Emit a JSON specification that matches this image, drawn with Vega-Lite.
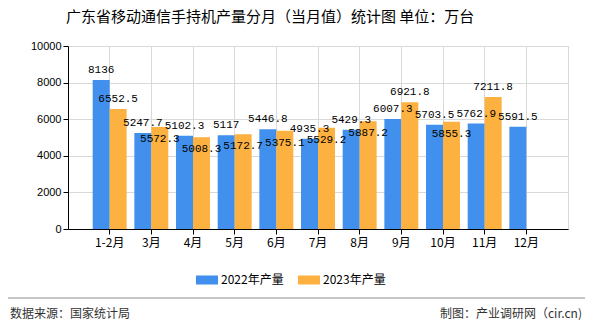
{
  "$schema": "https://vega.github.io/schema/vega-lite/v6.json",
  "width": 500,
  "height": 183,
  "autosize": "none",
  "padding": {"left": 68, "top": 46, "right": 22, "bottom": 101},
  "background": "white",
  "title": {
    "text": "广东省移动通信手持机产量分月（当月值）统计图 单位：万台",
    "anchor": "start",
    "frame": "group",
    "dx": -2,
    "offset": 15,
    "fontSize": 15,
    "fontWeight": "normal",
    "font": "Noto Sans CJK SC",
    "color": "#000000"
  },
  "datasets": {
    "main": [
      {"month": "1-2月", "series": "2022年产量", "value": 8136},
      {"month": "3月", "series": "2022年产量", "value": 5247.7},
      {"month": "4月", "series": "2022年产量", "value": 5102.3},
      {"month": "5月", "series": "2022年产量", "value": 5117},
      {"month": "6月", "series": "2022年产量", "value": 5446.8},
      {"month": "7月", "series": "2022年产量", "value": 4935.3},
      {"month": "8月", "series": "2022年产量", "value": 5429.3},
      {"month": "9月", "series": "2022年产量", "value": 6007.3},
      {"month": "10月", "series": "2022年产量", "value": 5703.5},
      {"month": "11月", "series": "2022年产量", "value": 5762.9},
      {"month": "12月", "series": "2022年产量", "value": 5591.5},
      {"month": "1-2月", "series": "2023年产量", "value": 6552.5},
      {"month": "3月", "series": "2023年产量", "value": 5572.3},
      {"month": "4月", "series": "2023年产量", "value": 5008.3},
      {"month": "5月", "series": "2023年产量", "value": 5172.7},
      {"month": "6月", "series": "2023年产量", "value": 5375.1},
      {"month": "7月", "series": "2023年产量", "value": 5529.2},
      {"month": "8月", "series": "2023年产量", "value": 5887.2},
      {"month": "9月", "series": "2023年产量", "value": 6921.8},
      {"month": "10月", "series": "2023年产量", "value": 5855.3},
      {"month": "11月", "series": "2023年产量", "value": 7211.8}
    ]
  },
  "layer": [
    {
      "data": {"name": "main"},
      "encoding": {
        "x": {
          "field": "month",
          "type": "nominal",
          "sort": null,
          "scale": {"paddingInner": 0.185, "paddingOuter": 0.5925},
          "axis": {
            "title": null,
            "labelAngle": 0,
            "labelFont": "Noto Sans CJK SC",
            "labelFontSize": 12,
            "labelColor": "#000000",
            "labelPadding": 3,
            "domainColor": "#000000",
            "tickColor": "#000000",
            "tickSize": 5,
            "grid": true,
            "gridColor": "#d9d9d9"
          }
        },
        "xOffset": {"field": "series", "type": "nominal"},
        "y": {
          "field": "value",
          "type": "quantitative",
          "scale": {"domain": [0, 10000]},
          "axis": {
            "title": null,
            "values": [0, 2000, 4000, 6000, 8000, 10000],
            "format": "d",
            "labelFont": "Liberation Sans",
            "labelFontSize": 11,
            "labelColor": "#000000",
            "domainColor": "#000000",
            "tickColor": "#000000",
            "tickSize": 5,
            "gridColor": "#d9d9d9"
          }
        }
      },
      "layer": [
        {
          "mark": {"type": "bar"},
          "encoding": {
            "color": {
              "field": "series",
              "type": "nominal",
              "scale": {"range": ["#4190EE", "#FDB140"]},
              "legend": {
                "title": null,
                "orient": "none",
                "direction": "horizontal",
                "legendX": 129,
                "legendY": 224,
                "symbolType": "M-1.1,-0.45H1.1V0.45H-1.1Z",
                "symbolSize": 400,
                "symbolStrokeWidth": 0,
                "labelFont": "Noto Sans CJK SC",
                "labelFontSize": 12,
                "labelColor": "#000000",
                "columnPadding": 14
              }
            }
          }
        },
        {
          "transform": [
            {"filter": "datum.series === '2022年产量' || datum.month === '1-2月' || datum.month === '9月' || datum.month === '11月'"}
          ],
          "mark": {
            "type": "text",
            "dy": -5,
            "baseline": "bottom",
            "font": "Liberation Mono",
            "fontSize": 11,
            "color": "#000000"
          },
          "encoding": {
            "text": {"field": "value", "type": "quantitative", "format": ""}
          }
        },
        {
          "transform": [
            {"filter": "datum.series === '2023年产量' && datum.month !== '1-2月' && datum.month !== '9月' && datum.month !== '11月'"}
          ],
          "mark": {
            "type": "text",
            "dy": 6,
            "baseline": "top",
            "font": "Liberation Mono",
            "fontSize": 11,
            "color": "#000000"
          },
          "encoding": {
            "text": {"field": "value", "type": "quantitative", "format": ""}
          }
        }
      ]
    },
    {
      "data": {"values": [{"a": 1}]},
      "mark": {"type": "rule", "color": "#8c8c8c", "strokeWidth": 1},
      "encoding": {
        "x": {"value": -60},
        "x2": {"value": 517},
        "y": {"value": 252}
      }
    },
    {
      "data": {"values": [{"t": "数据来源：国家统计局"}]},
      "mark": {"type": "text", "x": -58, "y": 268, "align": "left", "baseline": "middle", "font": "Noto Sans CJK SC", "fontSize": 12, "color": "#333333"},
      "encoding": {"text": {"field": "t"}}
    },
    {
      "data": {"values": [{"t": "制图：产业调研网（cir.cn)"}]},
      "mark": {"type": "text", "x": 514, "y": 268, "align": "right", "baseline": "middle", "font": "Noto Sans CJK SC", "fontSize": 12, "color": "#333333"},
      "encoding": {"text": {"field": "t"}}
    }
  ],
  "config": {
    "view": {"stroke": "#d9d9d9"},
    "axis": {"gridColor": "#d9d9d9"}
  }
}
